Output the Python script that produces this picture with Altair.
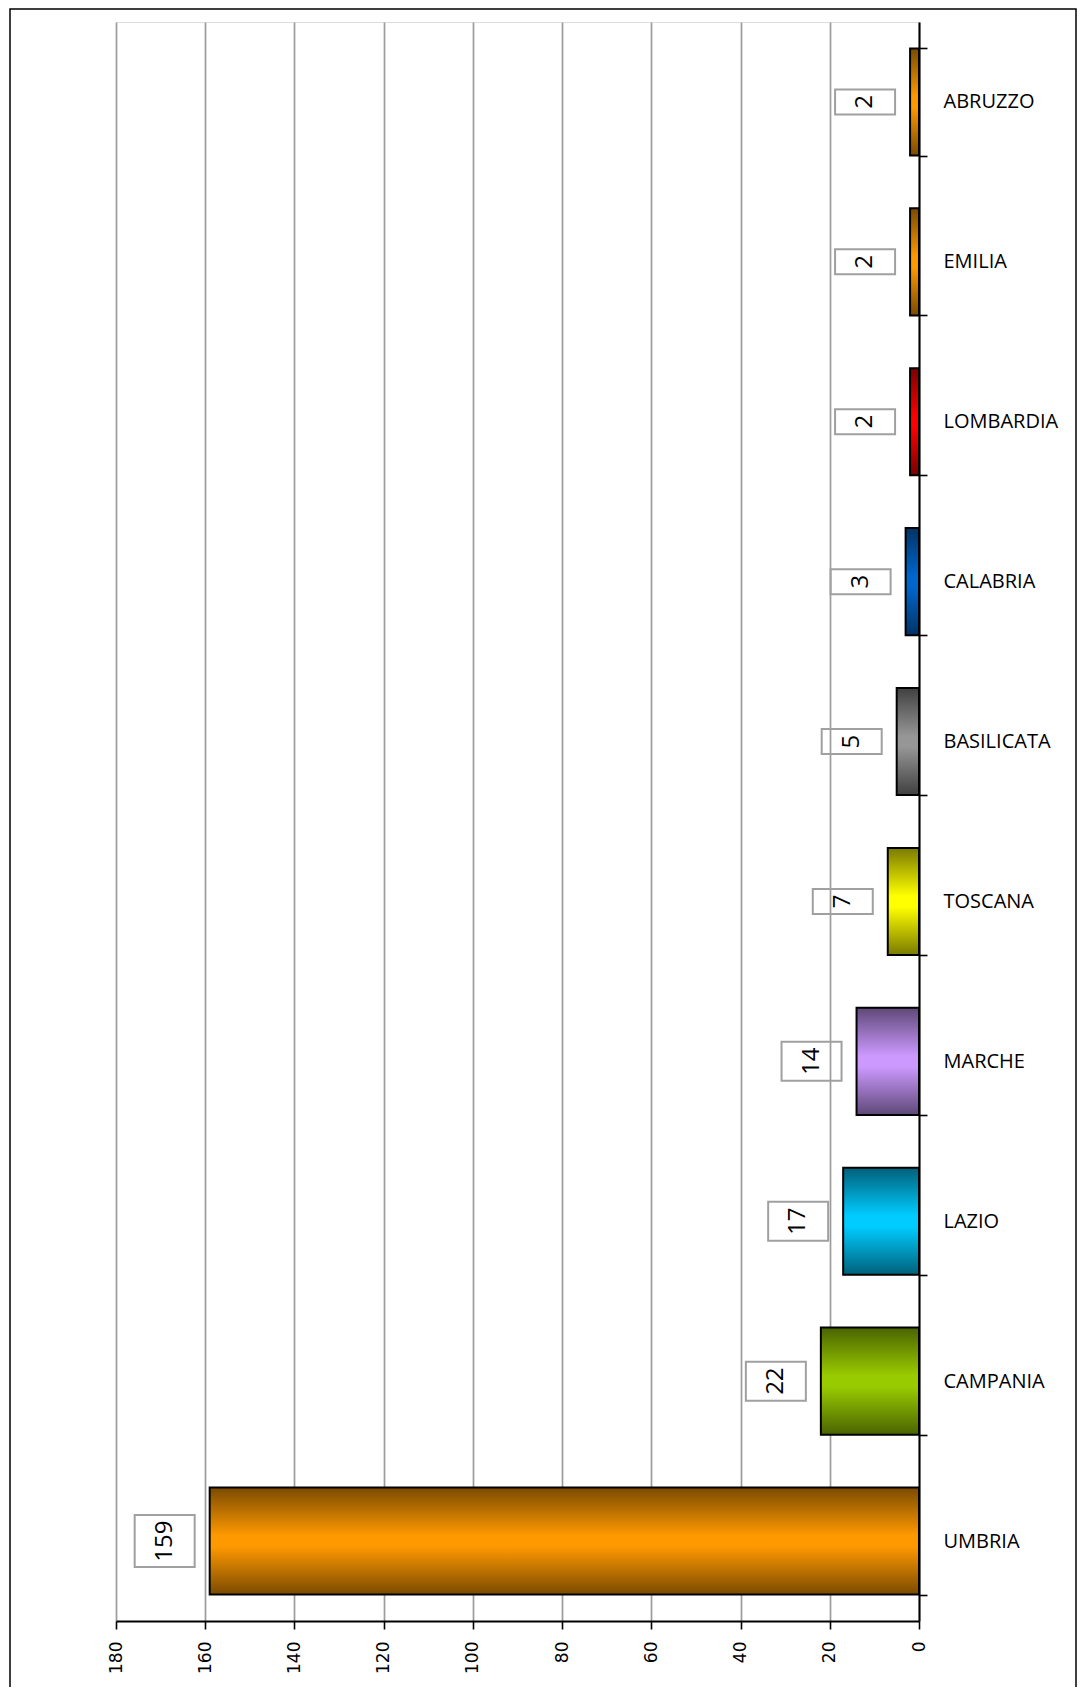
import altair as alt
import pandas as pd

# ---- data (top to bottom as displayed) ----
regions = ["ABRUZZO", "EMILIA", "LOMBARDIA", "CALABRIA", "BASILICATA",
           "TOSCANA", "MARCHE", "LAZIO", "CAMPANIA", "UMBRIA"]
counts = [2, 2, 2, 3, 5, 7, 14, 17, 22, 159]
x_ticks = [0, 20, 40, 60, 80, 100, 120, 140, 160, 180]

# ---- styles ----
edge_colors = {
    "ABRUZZO": "#7a4a00", "EMILIA": "#7a4a00", "UMBRIA": "#7a4a00",
    "LOMBARDIA": "#7a0000", "CALABRIA": "#003366", "BASILICATA": "#404040",
    "TOSCANA": "#7a7a00", "MARCHE": "#5e4878", "LAZIO": "#00607a",
    "CAMPANIA": "#4a6300",
}
center_colors = {
    "ABRUZZO": "#ff9900", "EMILIA": "#ff9900", "UMBRIA": "#ff9900",
    "LOMBARDIA": "#ff0000", "CALABRIA": "#0066cc", "BASILICATA": "#969696",
    "TOSCANA": "#ffff00", "MARCHE": "#cc99ff", "LAZIO": "#00ccff",
    "CAMPANIA": "#99cc00",
}

df = pd.DataFrame({"region": regions, "count": counts})
df["label"] = df["count"].astype(str)
df["ndig"] = df["label"].str.len()

x_enc = alt.X(
    "count:Q",
    scale=alt.Scale(domain=[0, 180], reverse=True, nice=False, zero=True),
    axis=alt.Axis(
        values=x_ticks, orient="bottom", title=None,
        labelAngle=270, labelFont="DejaVu Sans", labelFontSize=17,
        labelColor="black", labelPadding=12,
        tickSize=8, tickColor="black", tickWidth=1.6,
        domainColor="black", domainWidth=1.8,
        grid=True, gridColor="#9c9c9c", gridWidth=1.7,
    ),
)
y_enc = alt.Y(
    "region:N", sort=regions,
    scale=alt.Scale(paddingInner=0.33, paddingOuter=0.165),
    axis=alt.Axis(
        orient="right", title=None, labelFont="Open Sans", labelFontSize=20,
        labelColor="black", labelPadding=16, labelAlign="left",
        tickSize=8, tickColor="black", tickWidth=1.6, tickBand="extent",
        domainColor="black", domainWidth=2, grid=False,
    ),
)

base = alt.Chart(df).encode(y=y_enc)

layers = []
for r in regions:
    grad = alt.LinearGradient(
        gradient="linear", x1=0, y1=0, x2=0, y2=1,
        stops=[
            alt.GradientStop(color=edge_colors[r], offset=0),
            alt.GradientStop(color=center_colors[r], offset=0.45),
            alt.GradientStop(color=center_colors[r], offset=0.55),
            alt.GradientStop(color=edge_colors[r], offset=1),
        ],
    )
    layers.append(
        base.transform_filter(alt.datum.region == r)
        .mark_bar(fill=grad, stroke="black", strokeWidth=2)
        .encode(x=x_enc)
    )

box_heights = {1: 25, 2: 39, 3: 52}
for n, h in box_heights.items():
    layers.append(
        base.transform_filter(alt.datum.ndig == n)
        .mark_rect(fill="transparent", stroke="#a0a0a0", strokeWidth=2,
                   height=h, xOffset=-75, x2Offset=-15)
        .encode(x=x_enc, x2=alt.X2("count:Q"))
    )

layers.append(
    base.mark_text(angle=270, align="center", baseline="middle",
                   font="Open Sans", fontSize=24, color="black", xOffset=-45)
    .encode(x=x_enc, text="label:N")
)

border = alt.Chart(pd.DataFrame({"z": [0]})).mark_rect(
    fill="transparent", stroke="black", strokeWidth=1.5, clip=False
).encode(
    x=alt.value(-106), x2=alt.value(960),
    y=alt.value(-13), y2=alt.value(1666),
)
layers.append(border)

chart = alt.layer(*layers).properties(
    width=803, height=1599,
    autosize=alt.AutoSizeParams(type="none"),
    padding={"left": 108, "top": 14, "right": 158, "bottom": 66},
).configure_view(stroke=None).configure(background="white")

chart.save("out.html", embed_options={"renderer": "svg", "actions": False})
